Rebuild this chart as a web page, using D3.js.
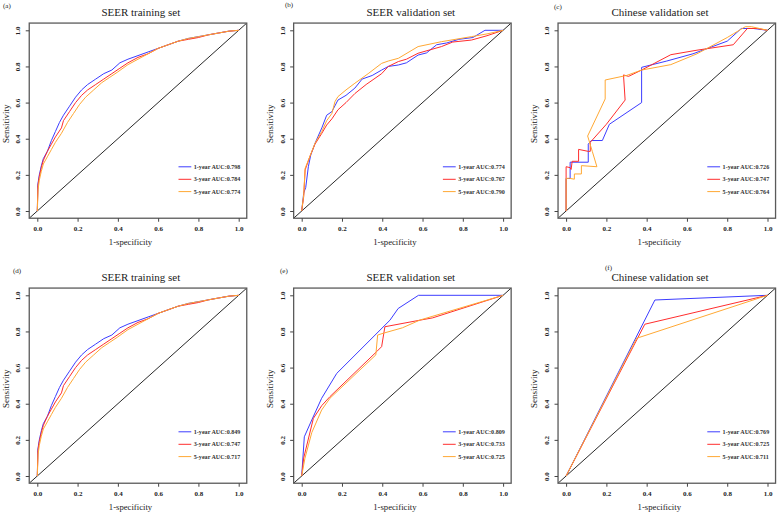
<!DOCTYPE html>
<html>
<head>
<meta charset="utf-8">
<script src="https://cdn.jsdelivr.net/npm/d3@7"></script>
<style>
  html, body { margin: 0; padding: 0; background: #fff; }
  svg { display: block; }
  text { font-family: "Liberation Serif", "Times New Roman", serif; }
</style>
</head>
<body>
<svg id="chart" width="778" height="513"></svg>
<script>
// ---------------- DATA ----------------
const panelLabels = ["(a)", "(b)", "(c)", "(d)", "(e)", "(f)"];
const panelTitles = ["SEER training set", "SEER validation set", "Chinese validation set",
                     "SEER training set", "SEER validation set", "Chinese validation set"];
const seriesNames = ["1-year", "3-year", "5-year"];
const aucA = ["0.798", "0.784", "0.774"];
const aucB = ["0.774", "0.767", "0.790"];
const aucC = ["0.726", "0.747", "0.764"];
const aucD = ["0.849", "0.747", "0.717"];
const aucE = ["0.809", "0.733", "0.725"];
const aucF = ["0.769", "0.725", "0.711"];
const tickValues = [0, 0.2, 0.4, 0.6, 0.8, 1.0];

// ROC points [1-specificity, sensitivity]
const rocA1 = [[0,0],[0.003,0.15],[0.01,0.2],[0.02,0.25],[0.03,0.29],[0.05,0.33],[0.07,0.39],[0.09,0.44],[0.11,0.49],[0.13,0.53],[0.16,0.58],[0.19,0.63],[0.22,0.67],[0.25,0.70],[0.29,0.73],[0.33,0.76],[0.37,0.78],[0.41,0.82],[0.45,0.84],[0.5,0.86],[0.55,0.88],[0.6,0.9],[0.65,0.92],[0.7,0.94],[0.75,0.955],[0.8,0.965],[0.85,0.975],[0.9,0.985],[0.95,0.995],[1,1]];
const rocA3 = [[0,0],[0.003,0.14],[0.01,0.19],[0.02,0.24],[0.03,0.28],[0.05,0.33],[0.07,0.37],[0.09,0.41],[0.12,0.46],[0.13,0.5],[0.16,0.55],[0.19,0.60],[0.22,0.64],[0.25,0.67],[0.29,0.70],[0.33,0.73],[0.37,0.76],[0.41,0.79],[0.45,0.82],[0.5,0.85],[0.55,0.87],[0.6,0.9],[0.65,0.92],[0.7,0.94],[0.75,0.95],[0.8,0.96],[0.85,0.975],[0.9,0.985],[0.95,0.995],[1,1]];
const rocA5 = [[0,0],[0.004,0.12],[0.01,0.17],[0.02,0.22],[0.03,0.26],[0.05,0.30],[0.07,0.34],[0.09,0.38],[0.12,0.43],[0.15,0.49],[0.18,0.54],[0.21,0.59],[0.24,0.63],[0.28,0.67],[0.32,0.71],[0.36,0.74],[0.40,0.77],[0.45,0.81],[0.5,0.84],[0.55,0.87],[0.6,0.9],[0.65,0.92],[0.7,0.94],[0.75,0.955],[0.8,0.965],[0.85,0.975],[0.9,0.985],[0.95,0.995],[1,1]];

const rocB1 = [[0,0],[0.01,0.1],[0.02,0.13],[0.033,0.245],[0.045,0.31],[0.066,0.374],[0.08,0.41],[0.1,0.46],[0.124,0.53],[0.15,0.55],[0.18,0.614],[0.22,0.64],[0.264,0.68],[0.3,0.73],[0.35,0.75],[0.397,0.78],[0.43,0.80],[0.48,0.808],[0.52,0.82],[0.578,0.863],[0.62,0.875],[0.67,0.92],[0.72,0.93],[0.78,0.95],[0.85,0.96],[0.91,1.0],[1,1]];
const rocB3 = [[0,0],[0.01,0.08],[0.017,0.227],[0.04,0.3],[0.066,0.37],[0.1,0.43],[0.124,0.476],[0.15,0.51],[0.18,0.56],[0.22,0.6],[0.264,0.65],[0.32,0.7],[0.397,0.76],[0.43,0.8],[0.48,0.827],[0.52,0.84],[0.578,0.873],[0.694,0.91],[0.75,0.935],[0.843,0.946],[0.92,0.97],[1,1]];
const rocB5 = [[0,0],[0.01,0.09],[0.017,0.236],[0.04,0.3],[0.066,0.375],[0.1,0.44],[0.124,0.5],[0.15,0.54],[0.165,0.605],[0.18,0.633],[0.22,0.67],[0.264,0.707],[0.33,0.76],[0.397,0.817],[0.43,0.83],[0.48,0.845],[0.578,0.91],[0.694,0.937],[0.843,0.965],[0.92,0.98],[1,1]];

const rocC1 = [[0,0],[0,0.18],[0.02,0.18],[0.02,0.27],[0.11,0.27],[0.11,0.37],[0.125,0.39],[0.18,0.39],[0.215,0.48],[0.375,0.6],[0.375,0.795],[0.5,0.83],[0.63,0.87],[0.8,0.94],[0.87,1.01],[0.93,1.01],[1,1]];
const rocC3 = [[0,0],[0,0.245],[0.02,0.24],[0.025,0.23],[0.03,0.275],[0.062,0.275],[0.062,0.341],[0.11,0.33],[0.12,0.33],[0.12,0.38],[0.2,0.48],[0.293,0.614],[0.285,0.753],[0.31,0.745],[0.375,0.78],[0.52,0.865],[0.65,0.89],[0.83,0.92],[0.9,1.01],[0.95,1.01],[1,1]];
const rocC5 = [[0,0],[0,0.18],[0.016,0.181],[0.041,0.176],[0.041,0.205],[0.076,0.205],[0.076,0.251],[0.153,0.245],[0.13,0.33],[0.107,0.415],[0.194,0.62],[0.194,0.725],[0.3,0.75],[0.375,0.78],[0.52,0.81],[0.65,0.87],[0.8,0.96],[0.83,0.98],[0.89,1.02],[0.92,1.02],[1,1]];

const rocD1 = rocA1;
const rocD3 = rocA3;
const rocD5 = rocA5;

const rocE1 = [[0,0],[0.013,0.217],[0.05,0.31],[0.099,0.43],[0.174,0.568],[0.438,0.862],[0.479,0.927],[0.58,1.0],[1,1]];
const rocE3 = [[0,0],[0.01,0.1],[0.058,0.319],[0.1,0.39],[0.14,0.439],[0.372,0.688],[0.397,0.716],[0.413,0.826],[0.6,0.865],[0.65,0.875],[1,1]];
const rocE5 = [[0,0],[0.016,0.098],[0.05,0.24],[0.099,0.365],[0.14,0.43],[0.368,0.67],[0.377,0.78],[0.405,0.79],[0.5,0.82],[0.587,0.863],[1,1]];

const rocF1 = [[0,0],[0.441,0.974],[1,1]];
const rocF3 = [[0,0],[0.391,0.84],[1,1]];
const rocF5 = [[0,0],[0.35,0.762],[1,1]];

const panelCurves = [
  [rocA1, rocA3, rocA5], [rocB1, rocB3, rocB5], [rocC1, rocC3, rocC5],
  [rocD1, rocD3, rocD5], [rocE1, rocE3, rocE5], [rocF1, rocF3, rocF5]
];
const panelAucs = [aucA, aucB, aucC, aucD, aucE, aucF];

// ---------------- STYLE / LAYOUT ----------------
const colors = ["#3c3cff", "#ff2d2d", "#ffa834"];
const colStep = 264.4, rowStep = 265;
const plotX0 = 37.3, plotX1 = 238.7, plotY0 = 211, plotY1 = 30.3;
const titleCX = [140.8, 146.4, 131.2, 140.8, 146.4, 131.2];
const labelPos = [[3, 7.5], [285 - colStep, 6.5], [554 - 2*colStep, 8.5],
                  [13, 272.5 - rowStep], [280 - colStep, 272.5 - rowStep], [605 - 2*colStep, 269.5 - rowStep]];

const svg = d3.select("#chart");

panelTitles.forEach((title, i) => {
  const col = i % 3, row = Math.floor(i / 3);
  const g = svg.append("g").attr("transform", `translate(${col*colStep},${row*rowStep})`);

  const x = d3.scaleLinear().domain([0, 1]).range([plotX0, plotX1]);
  const y = d3.scaleLinear().domain([0, 1]).range([plotY0, plotY1]);
  const bx0 = x(-0.04), bx1 = x(1.04), by0 = y(-0.04), by1 = y(1.04);

  const clipId = "clip" + i;
  g.append("clipPath").attr("id", clipId)
    .append("rect").attr("x", bx0).attr("y", by1).attr("width", bx1 - bx0).attr("height", by0 - by1);

  const plot = g.append("g").attr("clip-path", `url(#${clipId})`);

  // diagonal reference line
  plot.append("line")
    .attr("x1", x(-0.04)).attr("y1", y(-0.04))
    .attr("x2", x(1.04)).attr("y2", y(1.04))
    .attr("stroke", "#111").attr("stroke-width", 0.9);

  const line = d3.line().x(d => x(d[0])).y(d => y(d[1]));
  panelCurves[i].forEach((curve, k) => {
    plot.append("path").datum(curve)
      .attr("d", line)
      .attr("fill", "none")
      .attr("stroke", colors[k])
      .attr("stroke-width", 1)
      .attr("stroke-linejoin", "round");
  });

  // box
  g.append("rect")
    .attr("x", bx0).attr("y", by1).attr("width", bx1 - bx0).attr("height", by0 - by1)
    .attr("fill", "none").attr("stroke", "#5a5a5a").attr("stroke-width", 1.3);

  // x axis
  const xAxis = g.append("g").attr("transform", `translate(0,${by0})`)
    .call(d3.axisBottom(x).tickValues(tickValues).tickSize(3.5).tickPadding(4).tickFormat(d3.format(".1f")));
  xAxis.select(".domain").remove();
  xAxis.selectAll("line").attr("stroke", "#444");
  xAxis.selectAll("text").attr("font-size", 7).attr("font-weight", "bold").attr("fill", "#222")
    .attr("font-family", "Liberation Serif, serif");

  // y axis with rotated labels
  const yAxis = g.append("g").attr("transform", `translate(${bx0},0)`)
    .call(d3.axisLeft(y).tickValues(tickValues).tickSize(3.5).tickFormat(d3.format(".1f")));
  yAxis.select(".domain").remove();
  yAxis.selectAll("line").attr("stroke", "#444");
  yAxis.selectAll("text")
    .attr("font-size", 7).attr("font-weight", "bold").attr("fill", "#222")
    .attr("font-family", "Liberation Serif, serif")
    .attr("x", null).attr("dy", null)
    .attr("text-anchor", "middle")
    .attr("transform", "translate(-9,0) rotate(-90)");

  // axis titles
  g.append("text").attr("x", 130.5).attr("y", 244.5).attr("text-anchor", "middle")
    .attr("font-size", 8.7).attr("fill", "#222").text("1-specificity");
  g.append("text").attr("transform", `translate(8.6,${(plotY0 + plotY1)/2 + 3}) rotate(-90)`)
    .attr("text-anchor", "middle").attr("font-size", 9).attr("fill", "#222").text("Sensitivity");

  // title
  g.append("text").attr("x", titleCX[i]).attr("y", 15.5).attr("text-anchor", "middle")
    .attr("font-size", 11).attr("fill", "#222").text(title);

  // panel label
  g.append("text").attr("x", labelPos[i][0]).attr("y", labelPos[i][1])
    .attr("font-size", 7).attr("fill", "#222").text(panelLabels[i]);

  // legend
  const legY = [166.8, 179.3, 191.6];
  seriesNames.forEach((s, k) => {
    g.append("line").attr("x1", 178.5).attr("x2", 191.3).attr("y1", legY[k]).attr("y2", legY[k])
      .attr("stroke", colors[k]).attr("stroke-width", 1);
    g.append("text").attr("x", 193.8).attr("y", legY[k] + 2)
      .attr("font-size", 6.1).attr("font-weight", "bold").attr("fill", "#333")
      .text(`${s} AUC:${panelAucs[i][k]}`);
  });
});
</script>
</body>
</html>
